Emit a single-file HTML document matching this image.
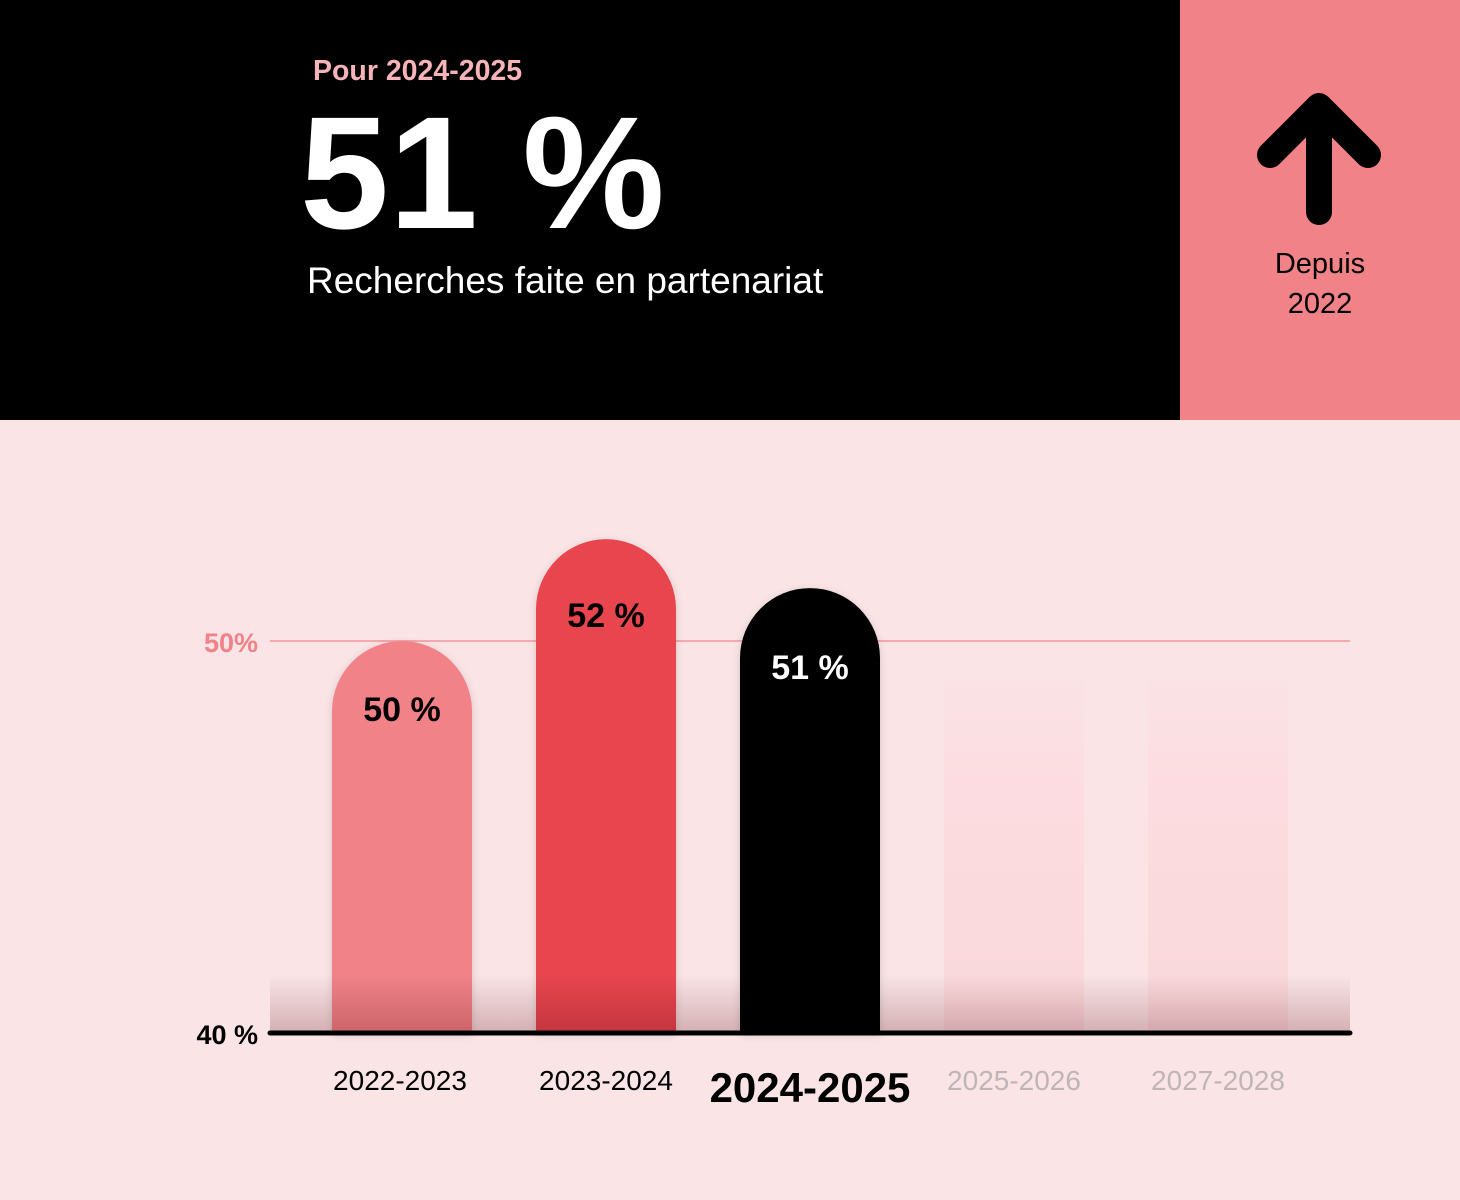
<!DOCTYPE html>
<html><head><meta charset="utf-8"><style>
body{margin:0;width:1460px;height:1200px;background:#fae4e6;font-family:"Liberation Sans",sans-serif;overflow:hidden;position:relative}
.abs{position:absolute}
</style></head><body>
<div class="abs" style="left:0;top:0;width:1180px;height:420px;background:#000"></div>
<div class="abs" style="left:1180px;top:0;width:280px;height:420px;background:#f08288"></div>
<div class="abs" style="left:313px;top:55px;font-size:28.5px;font-weight:bold;color:#f6b3b8">Pour 2024-2025</div>
<div class="abs" style="left:300px;top:88px;font-size:160px;font-weight:bold;color:#fff;letter-spacing:0px;line-height:170px">51 %</div>
<div class="abs" style="left:307px;top:260px;font-size:37px;color:#fff">Recherches faite en partenariat</div>
<svg class="abs" style="left:1250px;top:90px" width="140" height="140"><path d="M20 65 L69 16 L118 65 M69 16 L69 122" stroke="#000" stroke-width="26" stroke-linecap="round" stroke-linejoin="round" fill="none"/></svg>
<div class="abs" style="left:1180px;width:280px;top:244px;text-align:center;font-size:29px;line-height:40px;color:#000">Depuis<br>2022</div>
<svg class="abs" id="chart" style="left:0;top:420px" width="1460" height="780"></svg>
<script>
const categories=["2022-2023","2023-2024","2024-2025","2025-2026","2027-2028"];
const values=[50,52.6,51.35,null,null];
const valueLabels=["50 %","52 %","51 %","",""];
const yTicks=[40,50];
const yTickLabels=["40 %","50%"];
const NS="http://www.w3.org/2000/svg";
const svg=document.getElementById('chart');
const y0=613, pxPer=39.2;
function y(v){return y0-(v-40)*pxPer;}
function x(i){return 332+i*204;}
const bw=140;
function mk(t,a,p){const e=document.createElementNS(NS,t);for(const k in a)e.setAttribute(k,a[k]);(p||svg).appendChild(e);return e;}
const defs=mk('defs',{});
defs.innerHTML='<linearGradient id="sh" x1="0" y1="0" x2="0" y2="1"><stop offset="0" stop-color="#d8c8ca" stop-opacity="0"/><stop offset="1" stop-color="#d8c4c6" stop-opacity="1"/></linearGradient><linearGradient id="fb" x1="0" y1="0" x2="0" y2="1"><stop offset="0" stop-color="#fbdfe2" stop-opacity="0.3"/><stop offset="0.3" stop-color="#fcdce0"/><stop offset="1" stop-color="#fad8db"/></linearGradient><filter id="ds" x="-20%" y="-20%" width="140%" height="140%"><feDropShadow dx="0" dy="2" stdDeviation="4" flood-opacity="0.15"/></filter>';
let g=mk('line',{x1:270,x2:1350,y1:y(50),y2:y(50),stroke:'#f5a9ae','stroke-width':2});


const colors=['#f08288','#e8444f','#000'];
const txtCol=['#000','#000','#fff'];
const labelOff=[80,88,91];
categories.forEach((c,i)=>{
  const v=values[i];
  if(v!=null){
    const top=y(v),r=bw/2;
    const p=mk('path',{d:`M${x(i)} ${y0} L${x(i)} ${top+r} A${r} ${r} 0 0 1 ${x(i)+bw} ${top+r} L${x(i)+bw} ${y0} Z`,fill:colors[i],filter:'url(#ds)'});
    
    
    const t=mk('text',{x:x(i)+bw/2,y:top+labelOff[i],'text-anchor':'middle','font-size':34,'font-weight':'bold',fill:txtCol[i]});
    t.textContent=valueLabels[i];
    
    
  } else {
    const p=mk('rect',{x:x(i),y:y(49),width:bw,height:y0-y(49),fill:'url(#fb)'});
    
    
  }
  const cur=i===2, fut=v==null;
  const l=mk('text',{x:x(i)+bw/2-(i==0?2:0),y:cur?682:670,'text-anchor':'middle','font-size':cur?42:28,'font-weight':cur?'bold':'normal',fill:fut?'#bfb5b6':'#000'});
  l.textContent=c;
  
  
});
let s=mk('rect',{x:270,y:y0-58,width:1080,height:58,fill:'url(#sh)',style:'mix-blend-mode:multiply'});


let ax=mk('line',{x1:270,x2:1350,y1:y0,y2:y0,stroke:'#000','stroke-width':5,'stroke-linecap':'round'});


yTicks.forEach((t,i)=>{
  const e=mk('text',{x:258,y:y(t)+11,'text-anchor':'end','font-size':27,'font-weight':'bold',fill:i?'#f08288':'#000'});
  e.textContent=yTickLabels[i];
  
  
});
</script>
</body></html>
